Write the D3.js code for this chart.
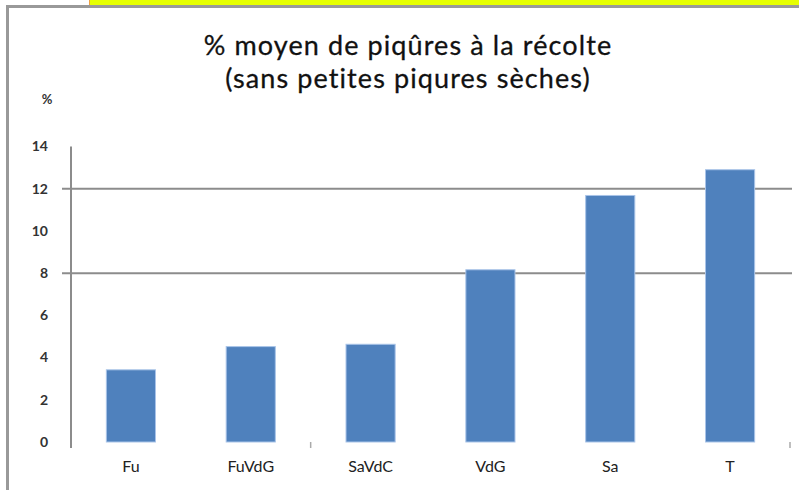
<!DOCTYPE html>
<html><head><meta charset="utf-8">
<script src="https://cdn.jsdelivr.net/npm/d3@7"></script>
<style>body{margin:0;background:#fff;}svg{display:block;}</style>
</head><body>
<svg id="c" width="799" height="490"></svg>
<script>
const categories = ["Fu", "FuVdG", "SaVdC", "VdG", "Sa", "T"];
const values = [3.42, 4.52, 4.63, 8.16, 11.68, 12.9];
const yTicks = [0, 2, 4, 6, 8, 10, 12, 14];
const gridValues = [8, 12];
const boundaryTicks = [2, 6];
const titleLines = ["% moyen de piqûres à la récolte", "(sans petites piqures sèches)"];
const yUnit = "%";

const svg = d3.select("#c");
const font = "Lato, 'Open Sans', sans-serif";

// frame decoration
svg.append("rect").attr("x", 89).attr("y", 0).attr("width", 710).attr("height", 5).attr("fill", "#e6ff00");
svg.append("line").attr("x1", 89.5).attr("x2", 89.5).attr("y1", 0).attr("y2", 5).attr("stroke", "#f0a040");
svg.append("line").attr("x1", 6).attr("x2", 799).attr("y1", 6.5).attr("y2", 6.5).attr("stroke", "#999").attr("stroke-width", 3);
svg.append("line").attr("x1", 7.5).attr("x2", 7.5).attr("y1", 6).attr("y2", 490).attr("stroke", "#999").attr("stroke-width", 3);

const x = d3.scaleBand().domain(categories).range([71, 790]).paddingInner(0.59).paddingOuter(0.295);
const y = d3.scaleLinear().domain([0, 14]).range([442, 146.5]);

// gridlines
svg.append("g").selectAll("line").data(gridValues).join("line")
  .attr("x1", 62).attr("x2", 792)
  .attr("y1", d => y(d)).attr("y2", d => y(d))
  .attr("stroke", "#8c8c8c").attr("stroke-width", 2);

// y axis line
svg.append("line").attr("x1", 71).attr("x2", 71).attr("y1", y(14)).attr("y2", 448)
  .attr("stroke", "#8c8c8c").attr("stroke-width", 2);

// boundary ticks
const step = x.step();
svg.append("g").selectAll("line").data(boundaryTicks).join("line")
  .attr("x1", d => 71 + d * step).attr("x2", d => 71 + d * step)
  .attr("y1", 442).attr("y2", 448)
  .attr("stroke", "#aaa").attr("stroke-width", 1.5);

// y tick labels
svg.append("g").selectAll("text").data(yTicks).join("text")
  .attr("x", 48).attr("y", d => y(d)).attr("dy", "0.35em")
  .attr("text-anchor", "end").attr("font-family", font).attr("font-size", 14).attr("font-weight", "bold")
  .attr("fill", "#333").text(d => d);

svg.append("text").attr("x", 47).attr("y", 104).attr("text-anchor", "middle")
  .attr("font-family", font).attr("font-size", 13).attr("font-weight", "bold").attr("fill", "#333").text(yUnit);

// bars
svg.append("g").selectAll("rect").data(values).join("rect")
  .attr("x", (d, i) => x(categories[i])).attr("width", x.bandwidth())
  .attr("y", d => y(d)).attr("height", d => y(0) - y(d))
  .attr("fill", "#4f81bd").attr("stroke", "#a9c4e8").attr("stroke-width", 1);

// category labels
svg.append("g").selectAll("text").data(categories).join("text")
  .attr("x", d => x(d) + x.bandwidth() / 2).attr("y", 472)
  .attr("text-anchor", "middle").attr("font-family", font).attr("font-size", 16)
  .attr("fill", "#222").text(d => d);

// title
svg.append("g").selectAll("text").data(titleLines).join("text")
  .attr("x", 408).attr("y", (d, i) => 55 + i * 33)
  .attr("text-anchor", "middle").attr("font-family", font).attr("font-size", 27).attr("font-weight", "normal")
  .attr("letter-spacing", 1.1)
  .attr("stroke", "#111").attr("stroke-width", 0.3)
  .attr("fill", "#111").text(d => d);
</script>
</body></html>
